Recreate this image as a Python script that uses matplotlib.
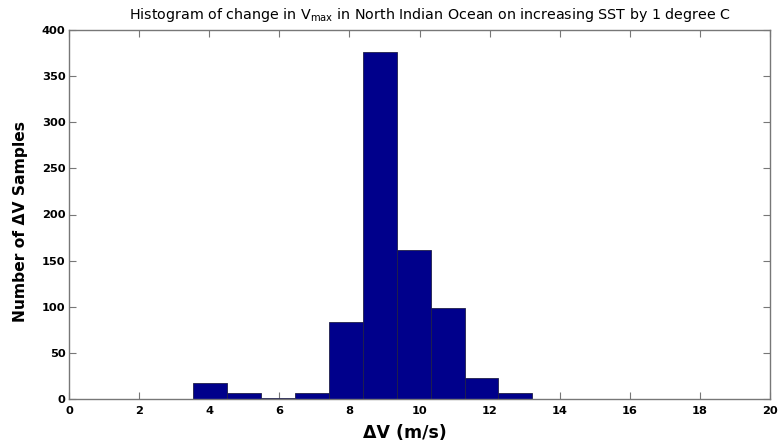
import matplotlib
matplotlib.use("Agg")
import matplotlib.pyplot as plt
import numpy as np

bin_centers = [4.024, 4.992, 5.96, 6.928, 7.896, 8.864, 9.832, 10.8, 11.768, 12.736]
counts = [17, 6, 1, 7, 84, 376, 162, 99, 23, 7]
bin_width = 0.968
x_ticks = list(range(0, 21, 2))
y_ticks = list(range(0, 401, 50))

plt.rcParams['font.family'] = ['DejaVu Sans']
plt.rcParams['mathtext.fontset'] = 'dejavusans'

fig = plt.figure(figsize=(7.82, 4.45), dpi=100)
ax = fig.add_axes([69/782, 1-399/445, (770-69)/782, (399-30)/445])

ax.bar(bin_centers, counts, width=bin_width, color='#00008B',
       edgecolor='#20204a', linewidth=0.6, zorder=2)

ax.set_xlim(0, 20)
ax.set_ylim(0, 400)
ax.set_xticks(x_ticks)
ax.set_yticks(y_ticks)
for s in ax.spines.values():
    s.set_color('#777777')
    s.set_linewidth(1.0)
ax.tick_params(direction='in', top=True, right=True, length=5, width=0.8,
               color='#777777', labelsize=8.2)
ax.tick_params(axis='x', pad=5)
ax.tick_params(axis='y', pad=2.5)
for lab in ax.get_xticklabels() + ax.get_yticklabels():
    lab.set_fontweight('bold')

ax.set_title('Histogram of change in V$_{\\mathregular{max}}$ in North Indian Ocean on increasing SST by 1 degree C',
             fontsize=10.3, pad=8, x=0.515)
ax.set_xlabel('ΔV (m/s)', fontsize=12.5, fontweight='bold')
ax.xaxis.set_label_coords(0.479, -0.067)
ax.xaxis.label.set_va('top')
ax.set_ylabel('Number of ΔV Samples', fontsize=11.2, fontweight='bold')
ax.yaxis.set_label_coords(-0.0585, 0.482)

fig.savefig('out.png', dpi=100)
